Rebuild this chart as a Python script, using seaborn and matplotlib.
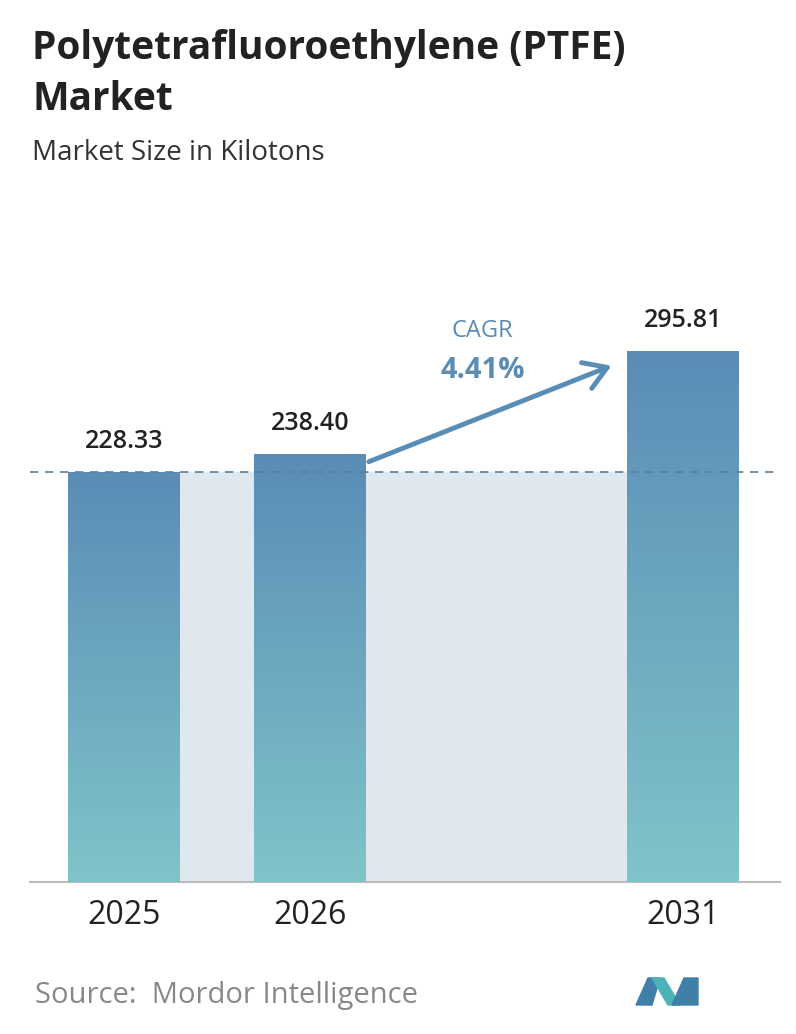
import numpy as np
import pandas as pd
import matplotlib.pyplot as plt
import seaborn as sns
from matplotlib.patches import Polygon
from matplotlib.colors import LinearSegmentedColormap

years = ["2025", "2026", "2031"]
values = [228.33, 238.40, 295.81]
positions = [0, 1, 3]
cagr = "4.41%"

sns.set_style("white")
plt.rcParams['font.family'] = ['Open Sans', 'DejaVu Sans']

fig = plt.figure(figsize=(7.96, 10.34), dpi=100)
ax = fig.add_axes([30 / 796, 152 / 1034, 750 / 796, 582 / 1034])

df = pd.DataFrame({"pos": positions, "value": values})
sns.barplot(data=df, x="pos", y="value", native_scale=True, width=0.6,
            color="#6a9fc0", linewidth=0, ax=ax, zorder=3)

# gradient fill on bars
grad = np.linspace(0, 1, 256).reshape(-1, 1)
cmap = LinearSegmentedColormap.from_list("g", ["#80c4c9", "#5a8cb6"])
for bar in ax.patches:
    x0, y0 = bar.get_x(), bar.get_y()
    w, h = bar.get_width(), bar.get_height()
    im = ax.imshow(grad, cmap=cmap, origin="lower", aspect="auto",
                   extent=[x0, x0 + w, y0, y0 + h], zorder=4)
    im.set_clip_path(bar)

ax.set_xlim(-0.504, 3.52)
ax.set_ylim(0, 324)

# shaded band between first and last bar
ax.fill_between([positions[0], positions[-1]], 0, values[0], color="#dfe7ef", zorder=1)
ax.axhline(values[0], color="#5a7f9a", lw=1.2, ls=(0, (5, 4)), zorder=5)

for p, v in zip(positions, values):
    ax.text(p, v + 10, f"{v:.2f}", ha="center", va="bottom", fontsize=18, fontweight="semibold",
            color="#222222", zorder=6)

ax.annotate("", xy=(2.63, 288), xytext=(1.30, 233.4),
            arrowprops=dict(arrowstyle="->,head_length=1.6,head_width=1.0", color="#5a8db5", lw=3.5), zorder=6)
ax.text(1.925, 307, "CAGR", ha="center", va="center", fontsize=17, color="#5a8db5")
ax.text(1.925, 285, cagr, ha="center", va="center", fontsize=21, fontweight="bold", color="#5a8db5")

ax.set_xticks(positions)
ax.set_xticklabels(years, fontsize=23, color="#222222")
ax.tick_params(axis="x", length=0, pad=12)
ax.set_yticks([])
ax.set_xlabel("")
ax.set_ylabel("")
for s in ["top", "left", "right"]:
    ax.spines[s].set_visible(False)
ax.spines["bottom"].set_color("#bbbbbb")
ax.spines["bottom"].set_linewidth(1.5)

fig.text(32 / 796, 1 - 48 / 1034, "Polytetrafluoroethylene (PTFE)", fontsize=28, fontweight="bold",
         color="#222222", va="center")
fig.text(32 / 796, 1 - 100 / 1034, "Market", fontsize=28, fontweight="bold", color="#222222", va="center")
fig.text(32 / 796, 1 - 153 / 1034, "Market Size in Kilotons", fontsize=20, color="#333333", va="center")
fig.text(35 / 796, 1 - 996 / 1034, "Source:  Mordor Intelligence", fontsize=21, color="#888888", va="center")

# simple logo
def px(pts):
    return [(x / 796, 1 - y / 1034) for x, y in pts]
fig.patches.append(Polygon(px([(636, 1005), (648, 978), (660, 978), (652, 1005)]), closed=True,
                           transform=fig.transFigure, color="#3f7fa8"))
fig.patches.append(Polygon(px([(652, 978), (664, 978), (680, 1005), (668, 1005)]), closed=True,
                           transform=fig.transFigure, color="#4bb3b8"))
fig.patches.append(Polygon(px([(672, 1005), (684, 978), (698, 978), (698, 1005)]), closed=True,
                           transform=fig.transFigure, color="#3f7fa8"))

fig.savefig("out.png", dpi=100)
